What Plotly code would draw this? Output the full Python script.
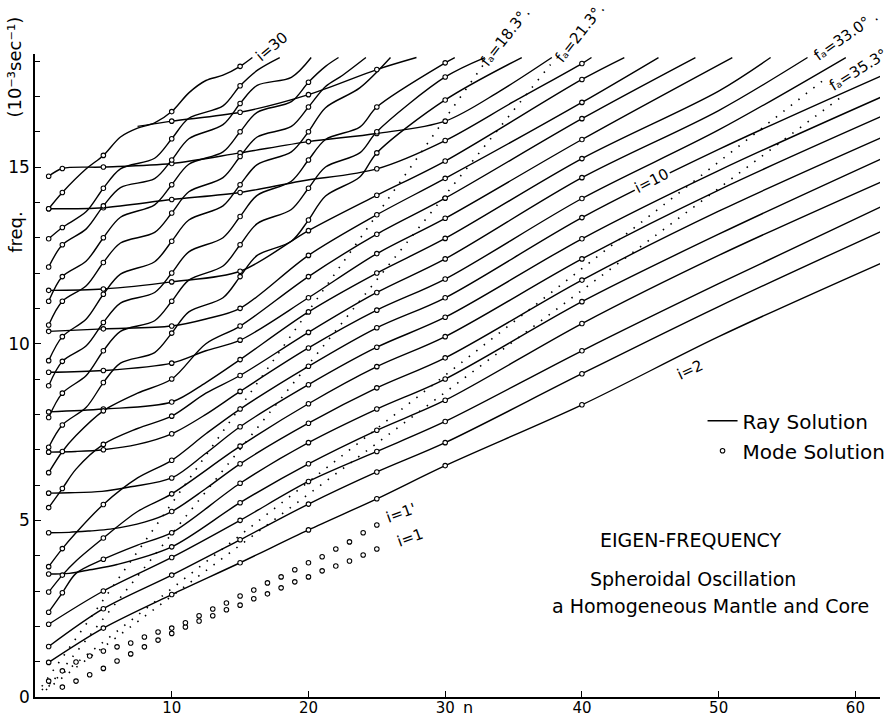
import plotly.graph_objects as go

# ---------------- data ----------------
# Ray-solution curves: (n, frequency in 1e-3 s^-1) knots
ray_01 = [(1,0.98),(5,1.95),(10,2.9),(15,3.80),(20,4.73),(25,5.61),(30,6.55),(40,8.27),(50,10.2),(62,12.3)]
ray_02 = [(1,1.43),(5,2.5),(10,3.45),(15,4.45),(20,5.46),(25,6.37),(30,7.2),(40,9.15),(50,11.05),(62,13.2)]
ray_03 = [(1,2.06),(5,3.0),(10,3.95),(15,5.0),(20,6.1),(25,6.95),(30,7.8),(40,9.80),(50,11.7),(62,13.9)]
ray_04 = [(1,3.48),(2.5,3.5),(4,3.6),(6,3.75),(10,4.25),(15,5.5),(20,6.6),(25,7.55),(30,8.4),(40,10.57),(50,12.5),(62,14.6)]
ray_05 = [(1,2.40),(2,2.95),(3,3.5),(5,3.9),(7.5,4.3),(10,4.65),(15,6.05),(20,7.2),(25,8.15),(30,9.0),(40,11.19),(50,13.1),(62,15.25)]
ray_06 = [(1,4.65),(2.5,4.66),(4,4.7),(5.5,4.75),(8,4.95),(10,5.25),(12.5,5.9),(15,6.6),(20,7.75),(25,8.75),(30,9.6),(40,11.8),(50,13.75),(62,15.85)]
ray_07 = [(1,2.97),(2,3.45),(3,3.85),(5,4.5),(7.5,5.25),(10,5.75),(15,7.1),(20,8.3),(25,9.35),(30,10.2),(40,12.4),(50,14.35),(62,16.45)]
ray_08 = [(1,5.77),(2.5,5.78),(4.9,5.82),(7,5.95),(10,6.2),(12.5,6.9),(15,7.65),(20,8.84),(25,9.9),(30,10.75),(40,12.97),(50,14.9),(62,17.0)]
ray_09 = [(1,3.69),(2,4.2),(3,4.65),(5,5.45),(7.5,6.2),(10,6.7),(12.5,7.45),(15,8.15),(20,9.36),(25,10.45),(30,11.3),(40,13.57),(50,15.5),(62,17.6)]
ray_10 = [(1,6.93),(3,6.95),(5,7.0),(7.5,7.15),(10,7.45),(12.5,8.0),(15,8.65),(20,9.88),(25,10.95),(30,11.83),(40,14.11),(50,16.05),(59.3,18.1)]
ray_11 = [(1,5.36),(2,5.9),(3,6.45),(5,7.15),(7.5,7.6),(10,7.95),(12.5,8.6),(15,9.1),(20,10.32),(25,11.45),(30,12.4),(40,14.70),(50,16.6),(56.5,18.1)]
ray_12 = [(1,8.07),(5,8.15),(10,8.35),(12.5,8.9),(15,9.55),(20,10.9),(25,12.0),(30,12.98),(40,15.24),(50,17.15),(53.8,18.1)]
ray_13 = [(1,9.19),(5,9.24),(10,9.45),(12.5,9.8),(15,10.1),(20,11.3),(25,12.55),(30,13.55),(40,15.78),(51.0,18.1)]
ray_14 = [(1,6.35),(2,6.95),(3,7.4),(5,8.1),(7.5,8.6),(10,9.0),(12.5,10.0),(15,10.5),(20,11.9),(25,13.1),(30,14.12),(40,16.37),(48.3,18.1)]
ray_15 = [(1,10.35),(5,10.42),(10,10.5),(12.5,10.7),(15,11.0),(20,12.5),(25,13.65),(30,14.68),(40,16.83),(45.6,18.1)]
ray_16 = [(1,11.51),(5,11.55),(10,11.75),(15,12.05),(20,13.2),(25,14.2),(30,15.17),(40,17.48),(43.1,18.1)]
ray_17 = [(1,13.82),(5,13.85),(10,14.08),(15,14.28),(19.4,14.6),(25,14.95),(30,15.75),(35,16.85),(40,17.93),(40.7,18.1)]
ray_18 = [(1,14.74),(2,14.96),(5,15.0),(10,15.1),(15,15.4),(20,15.72),(25,15.95),(30,16.3),(34,17.15),(37.8,18.1)]
ray_19 = [(1,7.07),(2,7.7),(3.75,8.2),(5,8.9),(6.25,9.45),(8.75,9.75),(10,10.3),(11.25,10.9),(13.75,11.3),(15,11.9),
          (16.25,12.5),(18.75,12.9),(20,13.5),(21.25,14.18),(23.75,14.72),(25,15.4),(30,16.9),(35.6,18.1)]
ray_20 = [(1,7.91),(2,8.6),(3.75,9.1),(5,9.8),(6.25,10.35),(8.75,10.65),(10,11.2),(11.25,11.8),(13.75,12.2),(15,12.8),
          (16.25,13.4),(18.75,13.8),(20,14.4),(21.25,15.0),(23.75,15.4),(25,16.0),(30,17.55),(32.9,18.1)]
ray_21 = [(1,8.81),(2,9.5),(3.75,9.94),(5,10.6),(6.25,11.15),(8.75,11.45),(10,12.0),(11.25,12.6),(13.75,13.0),(15,13.6),
          (16.25,14.2),(18.75,14.6),(20,15.2),(21.25,15.78),(23.75,16.13),(25,16.7),(30,17.95),(30.7,18.1)]
ray_22 = [(7.5,16.15),(10,16.3),(15,16.55),(20,17.05),(25,17.76),(27.9,18.1)]
ray_23 = [(1,9.52),(2,10.2),(3.75,10.7),(5,11.4),(6.25,11.97),(8.75,12.32),(10,12.9),(11.25,13.5),(13.75,13.9),(15,14.5),
          (16.25,15.07),(18.75,15.43),(20,16.0),(21.25,16.68),(23.75,17.24),(26.0,18.1)]
ray_24 = [(1,10.53),(2,11.2),(3.75,11.64),(5,12.3),(6.25,12.85),(8.75,13.15),(10,13.7),(11.25,14.3),(13.75,14.7),(15,15.3),
          (16.25,15.85),(18.75,16.15),(20,16.7),(21.25,17.28),(22.5,17.6),(24.2,18.1)]
ray_25 = [(1,11.2),(2,11.9),(3.75,12.34),(5,13.0),(6.25,13.58),(8.75,13.93),(10,14.5),(11.25,15.08),(13.75,15.43),(15,16.0),
          (16.25,16.55),(18.75,16.85),(20,17.4),(21.25,17.85),(22.2,18.1)]
ray_26 = [(1,12.17),(2,12.8),(3.75,13.25),(5,13.9),(6.25,14.42),(8.75,14.67),(10,15.2),(11.25,15.8),(13.75,16.2),(15,16.8),
          (16.25,17.31),(18.75,17.54),(20.2,18.1)]
ray_27 = [(1,12.97),(2,13.29),(3.75,13.74),(5,14.4),(6.25,14.95),(8.75,15.25),(10,15.8),(11.25,16.38),(13.75,16.73),(15,17.3),
          (16.3,17.75),(17.9,18.1)]
ray_28 = [(1,13.82),(2,14.28),(3.75,14.95),(5,15.33),(6.25,15.85),(7.5,16.1),(8.75,16.25),(10,16.57),(11.25,17.1),(12.5,17.45),
          (13.75,17.6),(15,17.85),(15.9,18.1)]

# n values at which mode solutions are marked on the ray curves
MODE_N = [1, 2, 5, 10, 15, 20, 25, 30, 40]

# i = 1 and i = 1' branches (mode solutions only)
i1_n = [2,3,4,5,6,7,8,9,10,11,12,13,14,15,16,17,18,19,20,21,22,23,24,25]
i1_f = [0.28,0.45,0.63,0.81,1.02,1.22,1.42,1.61,1.80,1.98,2.15,2.30,2.47,2.60,2.78,2.92,3.09,3.26,3.40,3.57,3.71,3.85,4.02,4.19]
i1p_n = [1,2,3,4,5,6,7,8,9,10,11,12,13,14,15,16,17,18,19,20,21,22,23,24,25]
i1p_f = [0.45,0.74,0.99,1.16,1.30,1.42,1.53,1.70,1.84,1.95,2.10,2.30,2.49,2.66,2.86,3.03,3.23,3.40,3.60,3.80,3.97,4.19,4.39,4.65,4.87]

# f_a boundary lines (dotted)
fa_183 = [(0.5,0.3),(32.8,17.9)]
fa_213 = [(1.0,0.3),(37.7,17.9)]
fa_330 = [(0.5,0.2),(57.8,17.5)]
fa_353 = [(0.8,0.2),(59.2,17.05)]

X_TICKS = [10, 20, 30, 40, 50, 60]
Y_TICKS = [0, 5, 10, 15]

# ---------------- figure ----------------
FONT = "DejaVu Sans"
rays = [ray_01, ray_02, ray_03, ray_04, ray_05, ray_06, ray_07, ray_08, ray_09, ray_10,
        ray_11, ray_12, ray_13, ray_14, ray_15, ray_16, ray_17, ray_18, ray_19, ray_20,
        ray_21, ray_22, ray_23, ray_24, ray_25, ray_26, ray_27, ray_28]

fig = go.Figure()

for fa in [fa_183, fa_213, fa_330, fa_353]:
    fig.add_trace(go.Scatter(x=[p[0] for p in fa], y=[p[1] for p in fa], mode="lines",
                             line=dict(color="black", width=1.6, dash="1.5px,8px"),
                             showlegend=False, hoverinfo="skip"))

for k, r in enumerate(rays):
    fig.add_trace(go.Scatter(x=[p[0] for p in r], y=[p[1] for p in r], mode="lines",
                             line=dict(color="black", width=1.4, shape="spline", smoothing=0.9),
                             name="Ray Solution", legendgroup="ray", showlegend=(k == 0),
                             hoverinfo="skip"))

mx, my = [], []
for r in rays:
    for n, f in r:
        if n in MODE_N:
            mx.append(n)
            my.append(f)
mx += i1_n + i1p_n
my += i1_f + i1p_f
fig.add_trace(go.Scatter(x=mx, y=my, mode="markers", name="Mode Solution", legendgroup="mode",
                         marker=dict(symbol="circle", size=4.5, color="white",
                                     line=dict(color="black", width=1.1)),
                         hoverinfo="skip"))

ann = []
def label(x, y, text, angle=0, size=15, bg=None, yref="y"):
    d = dict(x=x, y=y, xref="x", yref=yref, text=text, showarrow=False, textangle=angle,
             font=dict(family=FONT, size=size, color="black"), xanchor="center", yanchor="middle")
    if bg:
        d["bgcolor"] = bg
    ann.append(d)

# labels above the top of the axis are positioned in paper units vertically
label(17.3, 1.011, "i=30", -40, 15, yref="paper")
label(34.4, 1.026, "fₐ=18.3°.", -52, 15, yref="paper")
label(39.85, 1.033, "fₐ=21.3°.", -52, 15, yref="paper")
label(59.3, 1.028, "fₐ=33.0° .", -35, 15, yref="paper")
label(60.2, 17.75, "fₐ=35.3°", -32, 15)
label(45.1, 14.6, "i=10", -27, 15, "white")
label(47.9, 9.25, "i=2", -25, 15)
label(26.8, 5.2, "i=1'", -20, 15)
label(27.4, 4.5, "i=1", -20, 15)
label(48.0, 4.45, "EIGEN-FREQUENCY", 0, 19)
label(48.1, 3.35, "Spheroidal Oscillation", 0, 19)
label(49.4, 2.57, "a Homogeneous Mantle and Core", 0, 19)

ann.append(dict(x=31.65, y=0, xref="x", yref="paper", text="n", showarrow=False,
                font=dict(family=FONT, size=16, color="black"), yanchor="top", yshift=1))
ann.append(dict(x=-0.024, y=0.723, xref="paper", yref="paper", text="freq.", showarrow=False,
                xanchor="center", yanchor="middle",
                textangle=-90, font=dict(family=FONT, size=18, color="black")))
ann.append(dict(x=-0.024, y=0.98, xref="paper", yref="paper",
                text="(10⁻³sec⁻¹)", showarrow=False,
                xanchor="center", yanchor="middle",
                textangle=-90, font=dict(family=FONT, size=18, color="black")))

fig.update_layout(
    width=893, height=718,
    margin=dict(l=35, r=13, t=54, b=21, pad=0, autoexpand=False),
    paper_bgcolor="white", plot_bgcolor="white",
    font=dict(family=FONT, size=16, color="black"),
    annotations=ann,
    legend=dict(x=0.79, y=0.46, xanchor="left", yanchor="top", bgcolor="rgba(0,0,0,0)",
                font=dict(family=FONT, size=20, color="black"), tracegroupgap=1, itemwidth=30),
    xaxis=dict(range=[0, 61.8], showgrid=False, zeroline=False, showline=True, automargin=False,
               linecolor="black", linewidth=1.5, ticks="inside", ticklen=6, tickwidth=1.3,
               tickcolor="black", tickvals=X_TICKS, tickfont=dict(family=FONT, size=15),
               ticklabelstandoff=-4),
    yaxis=dict(range=[0, 18.2], showgrid=False, zeroline=False, showline=True, automargin=False,
               linecolor="black", linewidth=1.5, ticks="inside", ticklen=6, tickwidth=1.3,
               tickcolor="black", tickvals=Y_TICKS, tickfont=dict(family=FONT, size=17),
               minor=dict(dtick=1, ticks="inside", ticklen=5, tickwidth=1.2, tickcolor="black")),
)

fig.write_html("out.html", config={"displayModeBar": False},
               post_script="document.body.style.margin='0';document.body.style.overflow='hidden';")
